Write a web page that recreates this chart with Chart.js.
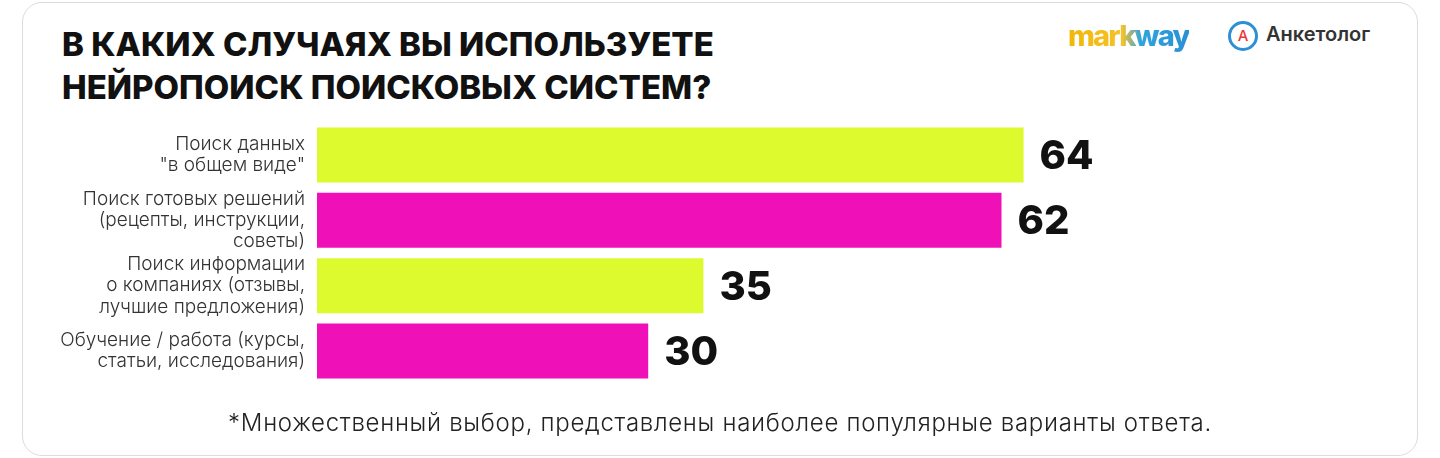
<!DOCTYPE html>
<html>
<head>
<meta charset="utf-8">
<script src="https://cdn.jsdelivr.net/npm/chart.js@4"></script>
<style>
  body { margin:0; background:#fff; font-family:Inter, "Noto Sans", sans-serif; }
  #card { position:absolute; left:22px; top:2px; width:1394px; height:452px; border:1.5px solid #dcdcdc; border-radius:20px; }
  #title { position:absolute; left:62px; top:23px; font:800 33px/43px Inter, sans-serif; color:#111; letter-spacing:0px; }
  #note { position:absolute; left:0; width:1440px; top:408px; text-align:center; font:300 24px Inter, sans-serif; color:#222; letter-spacing:0.7px; }
  #mw { position:absolute; left:1068px; top:18px; font:800 29px Inter, sans-serif; letter-spacing:-1.8px;
        background:linear-gradient(90deg,#f2b705 0%,#f5c12b 45%,#2fa4dd 60%,#2b8fd6 100%); -webkit-background-clip:text; color:transparent; }
  #ak { position:absolute; left:1228px; top:21px; font:600 20px Inter, sans-serif; color:#333; }
  #ak span.ic { display:inline-block; width:24px; height:24px; border:3px solid #2d8fd5; border-radius:50%; text-align:center;
        font:500 15px/24px Inter, sans-serif; color:#e33; vertical-align:middle; margin-right:8px; }
  #wrap { position:absolute; left:30px; top:97px; width:1380px; height:312px; }
</style>
</head>
<body>
<div id="card"></div>
<div id="title">В КАКИХ СЛУЧАЯХ ВЫ ИСПОЛЬЗУЕТЕ<br>НЕЙРОПОИСК ПОИСКОВЫХ СИСТЕМ?</div>
<div id="mw">markway</div>
<div id="ak"><span class="ic">A</span>Анкетолог</div>
<div id="wrap"><canvas id="chart"></canvas></div>
<div id="note">*Множественный выбор, представлены наиболее популярные варианты ответа.</div>
<script>
var categories = [
  ['Поиск данных', '"в общем виде"'],
  ['Поиск готовых решений', '(рецепты, инструкции,', 'советы)'],
  ['Поиск информации', 'о компаниях (отзывы,', 'лучшие предложения)'],
  ['Обучение / работа (курсы,', 'статьи, исследования)']
];
var values = [64, 62, 35, 30];
var barColors = ['#dcfa2e', '#f010b8', '#dcfa2e', '#f010b8'];

// подписи значений справа от столбцов
const valueLabels = {
  id: 'valueLabels',
  afterDatasetsDraw(chart) {
    const ctx = chart.ctx;
    const meta = chart.getDatasetMeta(0);
    ctx.save();
    ctx.font = '800 40px Inter, sans-serif';
    ctx.fillStyle = '#111';
    ctx.textBaseline = 'middle';
    meta.data.forEach(function (bar, i) {
      ctx.fillText(values[i], bar.x + 16, bar.y + 2);
    });
    ctx.restore();
  }
};

new Chart(document.getElementById('chart'), {
  type: 'bar',
  data: {
    labels: categories,
    datasets: [{
      data: values,
      backgroundColor: barColors,
      categoryPercentage: 1,
      barPercentage: 0.84
    }]
  },
  options: {
    indexAxis: 'y',
    responsive: true,
    maintainAspectRatio: false,
    animation: false,
    layout: { padding: 0 },
    plugins: { legend: { display: false }, tooltip: { enabled: false } },
    scales: {
      x: { display: false, min: 0, max: 99 },
      y: {
        grid: { display: false },
        border: { display: false },
        afterFit: function (s) { s.width = 287; },
        ticks: {
          autoSkip: false,
          color: '#333',
          padding: 4,
          font: { family: 'Inter', size: 19, weight: 300, lineHeight: 1.12 }
        }
      }
    }
  },
  plugins: [valueLabels]
});
</script>
</body>
</html>
